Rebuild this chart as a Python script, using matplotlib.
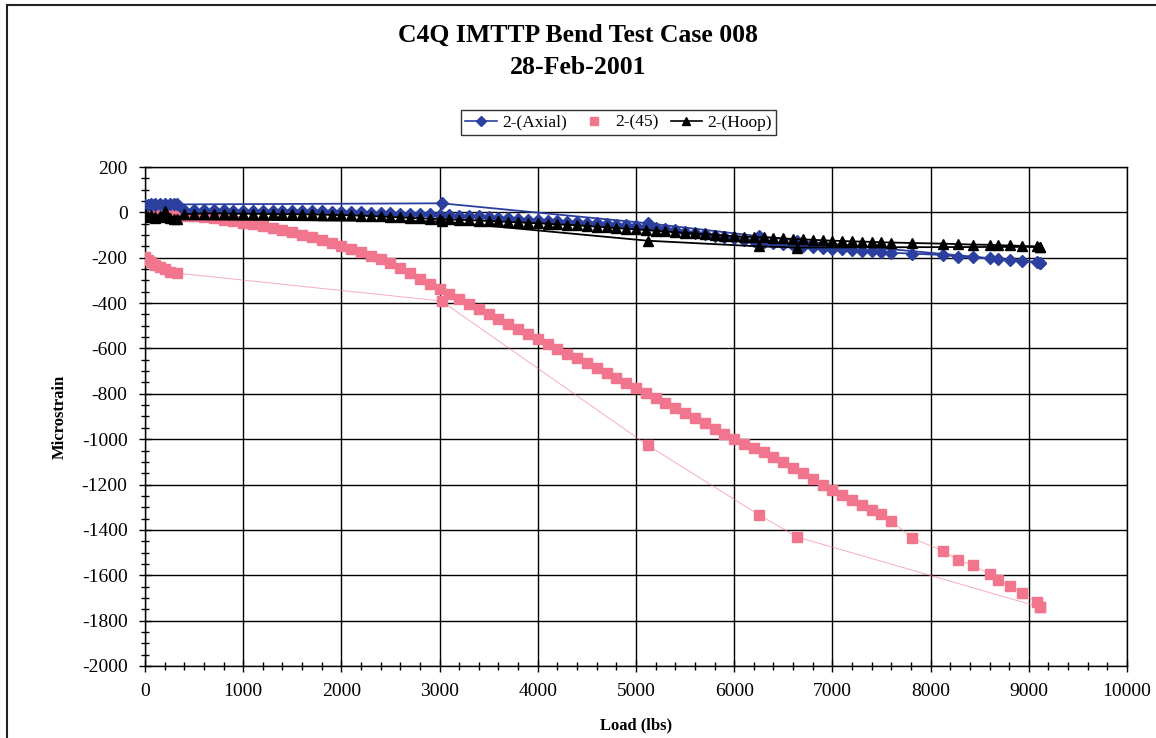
import matplotlib.pyplot as plt
from matplotlib.ticker import MultipleLocator
from matplotlib.patches import Rectangle
from matplotlib.lines import Line2D

plt.rcParams['font.family'] = ['Liberation Serif', 'DejaVu Serif']
plt.rcParams['axes.unicode_minus'] = False

# load (lbs), loading part every 100 lbs up to 7600, then the sparse end points
load_up = [0, 100, 200, 300, 400, 500, 600, 700, 800, 900,
           1000, 1100, 1200, 1300, 1400, 1500, 1600, 1700, 1800, 1900,
           2000, 2100, 2200, 2300, 2400, 2500, 2600, 2700, 2800, 2900,
           3000, 3100, 3200, 3300, 3400, 3500, 3600, 3700, 3800, 3900,
           4000, 4100, 4200, 4300, 4400, 4500, 4600, 4700, 4800, 4900,
           5000, 5100, 5200, 5300, 5400, 5500, 5600, 5700, 5800, 5900,
           6000, 6100, 6200, 6300, 6400, 6500, 6600, 6700, 6800, 6900,
           7000, 7100, 7200, 7300, 7400, 7500, 7600,
           7810, 8130, 8280, 8430, 8600, 8690, 8810, 8930, 9080, 9110]
# unloading part (sparse points going back to zero load)
load_down = [9110, 6640, 6250, 5120, 3020, 330, 260, 200, 150, 100, 60, 30, 0]

axial_up = [32, 38, 28, 35, 12, 10, 10, 9, 9, 8,
            8, 8, 7, 7, 6, 6, 5, 5, 4, 3,
            2, 1, 0, -1, -3, -4, -5, -7, -8, -9,
            -10, -12, -14, -16, -18, -20, -23, -26, -29, -32,
            -35, -37, -39, -41, -43, -45, -48, -51, -54, -57,
            -60, -64, -69, -74, -79, -85, -91, -97, -103, -109,
            -115, -120, -125, -130, -135, -140, -144, -148, -152, -156,
            -160, -163, -166, -169, -172, -175, -178,
            -182, -188, -195, -198, -203, -207, -210, -213, -218, -222]
axial_down = [-222, -125, -105, -48, 40, 35, 36, 38, 35, 33, 36, 34, 30]

pink_up = [-5, -8, -10, -12, -15, -18, -22, -27, -33, -39,
           -45, -52, -60, -68, -78, -88, -99, -110, -122, -135,
           -148, -162, -176, -191, -207, -223, -245, -268, -292, -316,
           -338, -360, -382, -404, -427, -450, -472, -494, -516, -538,
           -560, -581, -602, -623, -644, -665, -687, -709, -731, -753,
           -775, -797, -819, -841, -863, -885, -907, -930, -953, -976,
           -1000, -1020, -1040, -1058, -1078, -1100, -1125, -1150, -1175, -1200,
           -1225, -1248, -1270, -1292, -1312, -1332, -1360,
           -1436, -1493, -1533, -1555, -1595, -1621, -1648, -1678, -1718, -1740]
pink_down = [-1740, -1431, -1333, -1027, -391, -268, -262, -250, -242, -232, -220, -208, -195]

hoop_up = [-5, -20, 5, -30, -8, -6, -5, -5, -5, -6,
           -6, -6, -7, -7, -8, -8, -9, -9, -10, -11,
           -12, -13, -15, -16, -18, -20, -22, -24, -26, -28,
           -30, -31, -33, -34, -36, -38, -40, -42, -44, -46,
           -48, -50, -53, -55, -57, -60, -63, -66, -69, -72,
           -75, -78, -81, -84, -87, -90, -93, -96, -99, -102,
           -105, -107, -109, -110, -112, -115, -117, -119, -121, -123,
           -125, -126, -128, -129, -130, -132, -133,
           -135, -138, -140, -142, -143, -145, -146, -148, -150, -152]
hoop_down = [-152, -155, -150, -125, -40, -30, -25, -20, -15, -25, -10, -20, -15]

blue = '#2B3F9E'
pink = '#F2758E'

fig = plt.figure(figsize=(11.56, 7.38), dpi=100)
ax = fig.add_axes([0.1254, 0.0976, 0.8495, 0.6761])

# thin pink line through all 45 points, markers on top
ax.plot(load_up + load_down, pink_up + pink_down, color=pink, linewidth=0.7, alpha=0.6, zorder=2)
ax.plot(load_up + load_down, pink_up + pink_down, linestyle='none', marker='s', markersize=7.5,
        color=pink, markeredgecolor=pink, zorder=3)
ax.plot(load_up + load_down, axial_up + axial_down, color=blue, linewidth=1.3, marker='D',
        markersize=6, markeredgecolor=blue, zorder=4)
ax.plot(load_up + load_down, hoop_up + hoop_down, color='black', linewidth=1.3, marker='^',
        markersize=7, zorder=5)

ax.set_xlim(0, 10000)
ax.set_ylim(-2000, 200)
ax.xaxis.set_major_locator(MultipleLocator(1000))
ax.xaxis.set_minor_locator(MultipleLocator(200))
ax.yaxis.set_major_locator(MultipleLocator(200))
ax.yaxis.set_minor_locator(MultipleLocator(50))
ax.tick_params(which='major', direction='inout', length=9, width=1, labelsize=14, pad=8)
ax.tick_params(which='minor', direction='inout', length=6, width=1)
ax.grid(True, which='major', color='black', linewidth=1)
ax.set_axisbelow(True)
for s in ax.spines.values():
    s.set_linewidth(1)

ax.set_xlabel("Load (lbs)", fontsize=12, fontweight='bold', labelpad=12)
ax.set_ylabel("Microstrain", fontsize=12, fontweight='bold', labelpad=10)

fig.text(0.5, 0.952, "C4Q IMTTP Bend Test Case 008", ha='center', va='center',
         fontsize=18.5, fontweight='bold')
fig.text(0.5, 0.908, "28-Feb-2001", ha='center', va='center', fontsize=18.5, fontweight='bold')

handles = [Line2D([], [], color=blue, marker='D', markersize=5, linewidth=1.2),
           Line2D([], [], color=pink, marker='s', markersize=6, linestyle='none'),
           Line2D([], [], color='black', marker='^', markersize=6, linewidth=1.2)]
fig.legend(handles, ['2-(Axial)', '2-(45)', '2-(Hoop)'], loc='center', bbox_to_anchor=(0.535, 0.834),
           ncol=3, fontsize=12.5, frameon=True, fancybox=False, edgecolor='black',
           handlelength=1.8, columnspacing=0.7, handletextpad=0.3, borderpad=0.25)

# outer chart frame
fig.patches.append(Rectangle((0.006, -0.02), 1.2, 1.013, transform=fig.transFigure,
                             fill=False, edgecolor='#222222', linewidth=1.5))

plt.savefig('out.png', dpi=100)
